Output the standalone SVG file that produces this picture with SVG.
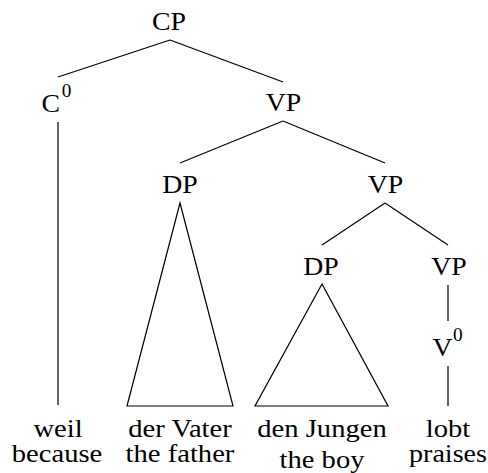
<svg xmlns="http://www.w3.org/2000/svg" width="488" height="473" viewBox="0 0 488 473">
<style>
text{font-family:'Liberation Serif','Times New Roman',serif;font-size:26px;fill:#000}
.m{text-anchor:middle}
.sup{font-size:18px}
.c line,.c polygon{stroke:#000;stroke-width:1.2;fill:none}
</style>
<rect width="488" height="473" fill="#fff"/>
<g class="c" id="connectors">
<line x1="170" y1="40" x2="58" y2="77"/>
<line x1="170" y1="40" x2="283" y2="82"/>
<line x1="58" y1="122" x2="58" y2="405"/>
<line x1="283" y1="121" x2="180" y2="163"/>
<line x1="283" y1="121" x2="385" y2="163"/>
<polygon points="180,203 127,406 233,406"/>
<line x1="385" y1="203" x2="322" y2="245"/>
<line x1="385" y1="203" x2="448" y2="245"/>
<polygon points="322,284 255,406 388,406"/>
<line x1="448" y1="285" x2="448" y2="321"/>
<line x1="448" y1="366" x2="448" y2="406"/>
</g>
<g id="CP"><text class="m" transform="translate(169 30) scale(1.07 1)">CP</text></g>
<g id="C0" transform="translate(42 111.5) scale(1.07 1)"><text x="-0.5" y="0">C</text><text class="sup" x="18.5" y="-15">0</text></g>
<g id="VP1"><text class="m" transform="translate(283.5 111) scale(1.07 1)">VP</text></g>
<g id="DP1"><text class="m" transform="translate(180 193) scale(1.07 1)">DP</text></g>
<g id="VP2"><text class="m" transform="translate(385.5 193) scale(1.07 1)">VP</text></g>
<g id="DP2"><text class="m" transform="translate(321 274.5) scale(1.07 1)">DP</text></g>
<g id="VP3"><text class="m" transform="translate(449 274.5) scale(1.07 1)">VP</text></g>
<g id="V0" transform="translate(432.5 355.5) scale(1.07 1)"><text x="0" y="0">V</text><text class="sup" x="19.2" y="-15">0</text></g>
<g id="weil"><text class="m" transform="translate(58 436.7) scale(1.1 1)">weil</text><text class="m" transform="translate(57 461.7) scale(1.1 1)">because</text></g>
<g id="derVater"><text class="m" transform="translate(180 436.7) scale(1.1 1)">der Vater</text><text class="m" transform="translate(180 461.7) scale(1.1 1)">the father</text></g>
<g id="denJungen"><text class="m" transform="translate(322 436.7) scale(1.1 1)">den Jungen</text><text class="m" transform="translate(322 468) scale(1.1 1)">the boy</text></g>
<g id="lobt"><text class="m" transform="translate(448 436.7) scale(1.1 1)">lobt</text><text class="m" transform="translate(448 461.7) scale(1.08 1)">praises</text></g>
</svg>
